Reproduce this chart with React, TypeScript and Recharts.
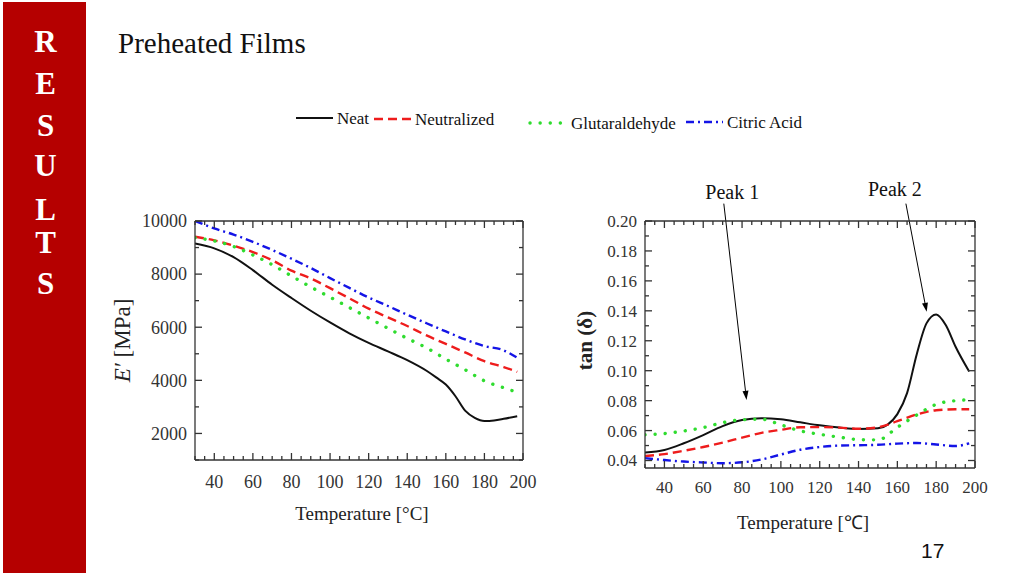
import { LineChart, Line, XAxis, YAxis, ReferenceLine } from "recharts"

const SERIF = '"Liberation Serif", "Times New Roman", serif'

// ---- storage modulus E' [MPa] ----
const modTemps = [30, 40, 50, 60, 70, 80, 90, 100, 110, 120, 130, 140, 150, 160, 170, 180, 190, 197]
const modNeatTemps = [30, 40, 50, 60, 70, 80, 90, 100, 110, 120, 130, 140, 150, 155, 160, 165, 170, 175, 180, 185, 190, 197]
const modNeat = [9150, 8970, 8640, 8150, 7600, 7100, 6620, 6180, 5770, 5410, 5090, 4760, 4360, 4110, 3840, 3400, 2860, 2590, 2470, 2490, 2550, 2650]
const modNeutralized = [9410, 9270, 9070, 8830, 8520, 8130, 7840, 7470, 7090, 6700, 6370, 6045, 5690, 5370, 5050, 4720, 4500, 4320]
const modGlutaraldehyde = [9370, 9250, 9040, 8720, 8355, 7930, 7515, 7130, 6740, 6350, 5960, 5580, 5225, 4800, 4400, 3980, 3720, 3550]
const modCitric = [10000, 9720, 9490, 9215, 8910, 8580, 8230, 7850, 7480, 7120, 6800, 6470, 6150, 5840, 5540, 5290, 5130, 4850]

// ---- tan(delta) ----
const tanTemps = [30, 40, 50, 60, 70, 80, 90, 100, 110, 120, 130, 140, 150, 160, 170, 180, 190, 197]
const tanNeatTemps = [30, 40, 50, 60, 70, 80, 90, 100, 110, 120, 130, 140, 150, 155, 160, 165, 170, 175, 180, 185, 190, 197]
const tanNeat = [0.0453, 0.047, 0.0515, 0.057, 0.063, 0.067, 0.0683, 0.0675, 0.0655, 0.0635, 0.062, 0.061, 0.0615, 0.064, 0.071, 0.085, 0.111, 0.1316, 0.1376, 0.1304, 0.116, 0.0995]
const tanNeutralized = [0.043, 0.0443, 0.0465, 0.049, 0.052, 0.0553, 0.0585, 0.0605, 0.0622, 0.0623, 0.062, 0.0612, 0.0622, 0.0663, 0.0708, 0.0736, 0.0742, 0.0742]
const tanGlutaraldehyde = [0.0572, 0.058, 0.0597, 0.062, 0.0653, 0.0672, 0.0676, 0.0638, 0.0598, 0.0575, 0.0556, 0.054, 0.0538, 0.0622, 0.0704, 0.0775, 0.08, 0.0805]
const tanCitric = [0.0416, 0.0403, 0.0393, 0.0387, 0.0382, 0.0388, 0.0407, 0.044, 0.0472, 0.049, 0.05, 0.0502, 0.0505, 0.0513, 0.0517, 0.0507, 0.0497, 0.0515]

const seriesNames = ["Neat", "Neutralized", "Glutaraldehyde", "Citric Acid"]

const xTicks = [30, 35, 40, 45, 50, 55, 60, 65, 70, 75, 80, 85, 90, 95, 100, 105, 110, 115, 120, 125, 130, 135, 140, 145, 150, 155, 160, 165, 170, 175, 180, 185, 190, 195, 200]
const modTicks = [1000, 2000, 3000, 4000, 5000, 6000, 7000, 8000, 9000, 10000]
const tanTicks = [0.04, 0.05, 0.06, 0.07, 0.08, 0.09, 0.1, 0.11, 0.12, 0.13, 0.14, 0.15, 0.16, 0.17, 0.18, 0.19, 0.2]

// annotations on the tan(delta) plot
const peakLabels = ["Peak 1", "Peak 2"]
const peakFrom = [{ x: 70.6, y: 0.2116 }, { x: 164.4, y: 0.2116 }]
const peakTo = [{ x: 82.3, y: 0.0805 }, { x: 175.1, y: 0.1393 }]

const STYLES = [
  { stroke: "#111111", width: 2, dash: undefined as string | undefined, cap: "butt" as const },
  { stroke: "#ee1c1c", width: 2.4, dash: "9 5", cap: "butt" as const },
  { stroke: "#2fdc2f", width: 3.4, dash: "0.1 10", cap: "round" as const },
  { stroke: "#1414e6", width: 2.4, dash: "8 4 2 4", cap: "butt" as const },
]

const zip = (ts: number[], vs: number[]) => ts.map((t, i) => ({ t, v: vs[i] }))

const modSeries = [
  zip(modNeatTemps, modNeat),
  zip(modTemps, modNeutralized),
  zip(modTemps, modGlutaraldehyde),
  zip(modTemps, modCitric),
]
const tanSeries = [
  zip(tanNeatTemps, tanNeat),
  zip(tanTemps, tanNeutralized),
  zip(tanTemps, tanGlutaraldehyde),
  zip(tanTemps, tanCitric),
]

const AXIS = "#333"

type Side = "bottom" | "top" | "left" | "right"

// inward tick marks (major/minor) plus labels on major ticks
function makeTick(side: Side, isMajor: (v: number) => boolean, fmt?: (v: number) => string, fontSize = 17, gap = 8) {
  return (props: any) => {
    const x = Number(props.x)
    const y = Number(props.y)
    const v = props.payload.value
    const major = isMajor(v)
    const len = major ? 7 : 4
    let d = ""
    if (side === "bottom") d = `M${x},${y}V${y - len}`
    if (side === "top") d = `M${x},${y}V${y + len}`
    if (side === "left") d = `M${x},${y}H${x + len}`
    if (side === "right") d = `M${x},${y}H${x - len}`
    return (
      <g>
        <path d={d} stroke={AXIS} strokeWidth={1.3} fill="none" />
        {major && fmt && side === "bottom" && (
          <text x={x} y={y + gap} dy="0.71em" textAnchor="middle" fontFamily={SERIF} fontSize={fontSize} fill="#333">
            {fmt(v)}
          </text>
        )}
        {major && fmt && side === "left" && (
          <text x={x - gap} y={y} dy="0.35em" textAnchor="end" fontFamily={SERIF} fontSize={fontSize} fill="#333">
            {fmt(v)}
          </text>
        )}
      </g>
    )
  }
}

const xTitle = (text: string, dx: number, cy: number, fs: number) => (props: any) => {
  const vb = props.viewBox || { x: 0, y: 0, width: 0, height: 0 }
  return (
    <text x={vb.x + vb.width / 2 + dx} y={vb.y + cy} textAnchor="middle" dominantBaseline="central" fontFamily={SERIF} fontSize={fs} fill="#222">
      {text}
    </text>
  )
}

const yTitle = (content: any, cx: number, dy: number, fs: number, bold = false) => (props: any) => {
  const vb = props.viewBox || { x: 0, y: 0, width: 0, height: 0 }
  const x = vb.x + cx
  const y = vb.y + vb.height / 2 + dy
  return (
    <text x={x} y={y} transform={`rotate(-90 ${x} ${y})`} textAnchor="middle" dominantBaseline="central" fontFamily={SERIF} fontSize={fs} fontWeight={bold ? "bold" : "normal"} fill="#222">
      {content}
    </text>
  )
}

const arrowShape = (label: string, dx: number, dy: number) => (p: any) => {
  const { x1, y1, x2, y2 } = p
  const a = Math.atan2(y2 - y1, x2 - x1)
  const c = Math.cos(a)
  const s = Math.sin(a)
  const L = 9
  const W = 3
  const bx = x2 - L * c
  const by = y2 - L * s
  const pts = `${x2},${y2} ${bx - W * s},${by + W * c} ${bx + W * s},${by - W * c}`
  return (
    <g>
      <line x1={x1} y1={y1} x2={bx} y2={by} stroke="#000" strokeWidth={1} />
      <polygon points={pts} fill="#000" />
      <text x={x1 + dx} y={y1 + dy} textAnchor="middle" fontFamily={SERIF} fontSize={20} fill="#111">
        {label}
      </text>
    </g>
  )
}

const isMajorX = (v: number) => v % 20 === 0
const isMajorMod = (v: number) => v % 2000 === 0
const isMajorTan = (v: number) => Math.round(v * 100) % 2 === 0

const axisLine = { stroke: AXIS, strokeWidth: 1.3 }

function frameAxes(yDomain: [number, number], yTicks: number[], isMajorY: (v: number) => boolean) {
  return [
    <XAxis
      key="top"
      xAxisId="top"
      orientation="top"
      dataKey="t"
      type="number"
      domain={[30, 200]}
      allowDataOverflow
      ticks={xTicks}
      interval={0}
      height={1}
      tickSize={0}
      tickMargin={0}
      tickLine={false}
      axisLine={axisLine}
      tick={makeTick("top", isMajorX)}
    />,
    <YAxis
      key="right"
      yAxisId="right"
      orientation="right"
      dataKey="v"
      type="number"
      domain={yDomain}
      allowDataOverflow
      ticks={yTicks}
      interval={0}
      width={1}
      tickSize={0}
      tickMargin={0}
      tickLine={false}
      axisLine={axisLine}
      tick={makeTick("right", isMajorY)}
    />,
  ]
}

function ModulusChart() {
  return (
    <LineChart width={440} height={370} margin={{ top: 50, right: 16, bottom: 0, left: 0 }}>
      <XAxis
        dataKey="t"
        type="number"
        domain={[30, 200]}
        allowDataOverflow
        ticks={xTicks}
        interval={0}
        height={80}
        tickSize={0}
        tickMargin={0}
        tickLine={false}
        axisLine={axisLine}
        tick={makeTick("bottom", isMajorX, (v) => String(v), 18, 15)}
        label={{ content: xTitle("Temperature [°C]", 3, 53, 19) }}
      />
      <YAxis
        type="number"
        domain={[1000, 10000]}
        allowDataOverflow
        ticks={modTicks}
        interval={0}
        width={95}
        tickSize={0}
        tickMargin={0}
        tickLine={false}
        axisLine={axisLine}
        tick={makeTick("left", isMajorMod, (v) => String(v), 18, 8)}
        label={{
          content: yTitle(
            <>
              <tspan fontStyle="italic">E′</tspan> [MPa]
            </>,
            22,
            0,
            23
          ),
        }}
      />
      {frameAxes([1000, 10000], modTicks, isMajorMod)}
      {/* invisible copy tied to the mirror axes so they get a scale */}
      <Line data={modSeries[0]} dataKey="v" xAxisId="top" yAxisId="right" stroke="none" dot={false} activeDot={false} legendType="none" isAnimationActive={false} />
      {seriesNames.map((name, i) => (
        <Line
          key={name}
          name={name}
          data={modSeries[i]}
          dataKey="v"
          type="monotone"
          stroke={STYLES[i].stroke}
          strokeWidth={STYLES[i].width}
          strokeDasharray={STYLES[i].dash}
          strokeLinecap={STYLES[i].cap}
          dot={false}
          activeDot={false}
          isAnimationActive={false}
        />
      ))}
    </LineChart>
  )
}

function TanDeltaChart() {
  return (
    <LineChart width={440} height={370} margin={{ top: 50, right: 24, bottom: 0, left: 0 }}>
      <XAxis
        dataKey="t"
        type="number"
        domain={[30, 200]}
        allowDataOverflow
        ticks={xTicks}
        interval={0}
        height={72}
        tickSize={0}
        tickMargin={0}
        tickLine={false}
        axisLine={axisLine}
        tick={makeTick("bottom", isMajorX, (v) => String(v), 17, 13)}
        label={{ content: xTitle("Temperature [℃]", -7, 54, 19) }}
      />
      <YAxis
        type="number"
        domain={[0.035, 0.2]}
        allowDataOverflow
        ticks={tanTicks}
        interval={0}
        width={85}
        tickSize={0}
        tickMargin={0}
        tickLine={false}
        axisLine={axisLine}
        tick={makeTick("left", isMajorTan, (v) => v.toFixed(2), 17, 8)}
        label={{ content: yTitle("tan (δ)", 25, -4, 21, true) }}
      />
      {frameAxes([0.035, 0.2], tanTicks, isMajorTan)}
      <Line data={tanSeries[0]} dataKey="v" xAxisId="top" yAxisId="right" stroke="none" dot={false} activeDot={false} legendType="none" isAnimationActive={false} />
      {seriesNames.map((name, i) => (
        <Line
          key={name}
          name={name}
          data={tanSeries[i]}
          dataKey="v"
          type="monotone"
          stroke={STYLES[i].stroke}
          strokeWidth={STYLES[i].width}
          strokeDasharray={STYLES[i].dash}
          strokeLinecap={STYLES[i].cap}
          dot={false}
          activeDot={false}
          isAnimationActive={false}
        />
      ))}
      {peakLabels.map((label, i) => (
        <ReferenceLine
          key={label}
          segment={[peakFrom[i], peakTo[i]]}
          ifOverflow="visible"
          shape={arrowShape(label, i === 0 ? 8.5 : -11, i === 0 ? -5 : -8)}
        />
      ))}
    </LineChart>
  )
}

// legend swatch placement
const legendX = [296, 374, 530, 686]
const legendY = [118, 119, 123, 122]

const sidebarLetters = ["R", "E", "S", "U", "L", "T", "S"]
const sidebarBaselines = [52, 94, 136, 176, 220, 253, 294]

export default function App() {
  return (
    <div style={{ position: "fixed", left: 0, top: 0, width: 1024, height: 576, background: "#fff", overflow: "hidden" }}>
      <div style={{ position: "absolute", left: 100, top: 170 }}>
        <ModulusChart />
      </div>
      <div style={{ position: "absolute", left: 560, top: 170 }}>
        <TanDeltaChart />
      </div>
      <svg width={1024} height={576} style={{ position: "absolute", left: 0, top: 0, pointerEvents: "none" }}>
        <rect x={3} y={2} width={83} height={571} fill="#b50000" />
        {sidebarLetters.map((ch, i) => (
          <text key={i} x={45.5} y={sidebarBaselines[i]} textAnchor="middle" fontFamily={SERIF} fontWeight="bold" fontSize={31} fill="#fff">
            {ch}
          </text>
        ))}
        <text x={118} y={52.5} fontFamily={SERIF} fontSize={29} fill="#111">
          Preheated Films
        </text>
        {seriesNames.map((name, i) => (
          <g key={name}>
            <line
              x1={legendX[i]}
              y1={legendY[i]}
              x2={legendX[i] + 37}
              y2={legendY[i]}
              stroke={STYLES[i].stroke}
              strokeWidth={STYLES[i].width}
              strokeDasharray={STYLES[i].dash}
              strokeLinecap={STYLES[i].cap}
            />
            <text x={legendX[i] + 41} y={legendY[i] + 6} fontFamily={SERIF} fontSize={17} fill="#111">
              {name}
            </text>
          </g>
        ))}
        <text x={921} y={558} fontFamily='"Liberation Sans", Arial, sans-serif' fontSize={21} fill="#111">
          17
        </text>
      </svg>
    </div>
  )
}
